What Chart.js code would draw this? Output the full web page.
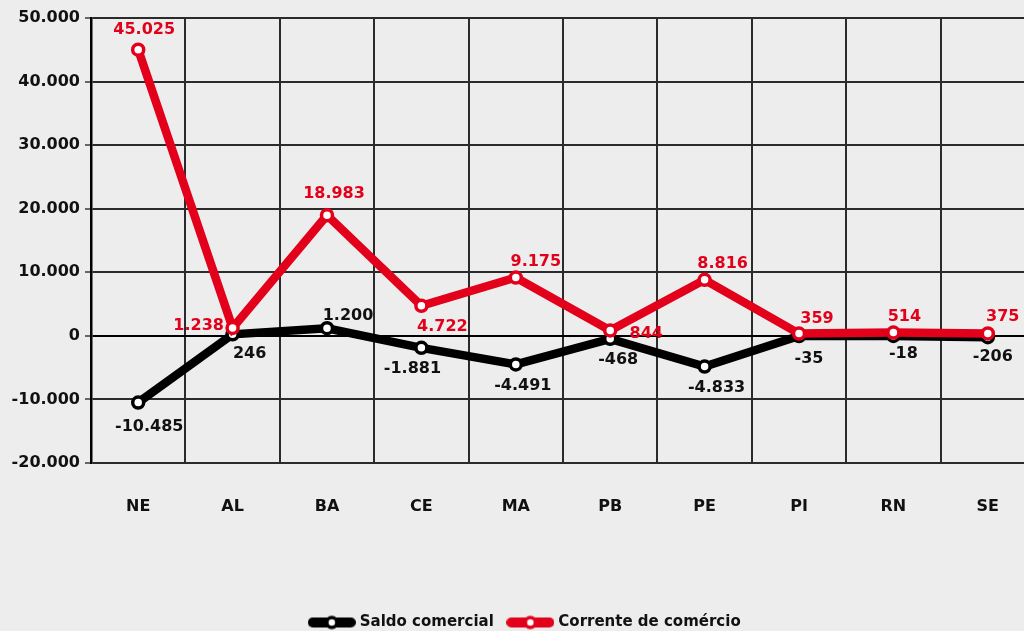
<!DOCTYPE html>
<html>
<head>
<meta charset="utf-8">
<script src="https://cdn.jsdelivr.net/npm/chart.js@4.4.1/dist/chart.umd.min.js"></script>
<style>
  html, body { margin: 0; padding: 0; background: #ecedec; overflow: hidden; }
  #wrap { width: 1052px; height: 631px; }
</style>
</head>
<body>
<div id="wrap"><canvas id="grafico" width="1052" height="631"></canvas></div>
<script>
const estados = ['NE', 'AL', 'BA', 'CE', 'MA', 'PB', 'PE', 'PI', 'RN', 'SE'];
const saldoComercial = [-10485, 246, 1200, -1881, -4491, -468, -4833, -35, -18, -206];
const correnteComercio = [45025, 1238, 18983, 4722, 9175, 844, 8816, 359, 514, 375];
const eixoY = { min: -20000, max: 50000, passo: 10000 };

const VERMELHO = '#e2001a';
const PRETO = '#000000';
const FONTE = 'DejaVu Sans';

// formato pt-BR: 45.025, -10.485
function formatar(v) {
    const s = Math.abs(v).toString().replace(/\B(?=(\d{3})+(?!\d))/g, '.');
    return (v < 0 ? '-' : '') + s;
}

// deslocamento dos rótulos de cada ponto (px)
const posSaldo = [[11, 24], [17, 20], [21, -12], [-9, 21], [7, 21], [8, 21], [12, 21], [10, 23], [10, 18], [5, 20]];
const posCorrente = [[6, -20], [-34, -2], [7, -21], [21, 21], [20, -16], [36, 3], [18, -16], [18, -15], [11, -16], [15, -17]];

const rotulosPlugin = {
    id: 'rotulos',
    afterLayout(chart) {
        // legenda um pouco deslocada para a direita, como no original
        if (chart.legend) chart.legend.left += 10;
    },
    afterDatasetsDraw(chart, args, opts) {
        const ctx = chart.ctx;
        ctx.save();
        ctx.font = `bold 16px "${FONTE}"`;
        ctx.textAlign = 'center';
        ctx.textBaseline = 'middle';
        chart.data.datasets.forEach((ds, i) => {
            const meta = chart.getDatasetMeta(i);
            const offs = opts.offsets[i];
            ctx.fillStyle = ds.labelColor;
            meta.data.forEach((pt, j) => {
                ctx.fillText(formatar(ds.data[j]), pt.x + offs[j][0], pt.y + offs[j][1]);
            });
        });
        ctx.restore();
    }
};

function amostraLegenda(cor) {
    const c = document.createElement('canvas');
    c.width = 48; c.height = 16;
    const g = c.getContext('2d');
    g.lineCap = 'round';
    g.strokeStyle = cor;
    g.lineWidth = 10;
    g.beginPath(); g.moveTo(5, 8); g.lineTo(43, 8); g.stroke();
    g.beginPath(); g.arc(24, 8, 5, 0, Math.PI * 2);
    g.fillStyle = '#fff'; g.fill();
    g.lineWidth = 3.5; g.stroke();
    return c;
}

const ctx = document.getElementById('grafico').getContext('2d');

new Chart(ctx, {
    type: 'line',
    data: {
        labels: estados,
        datasets: [
            {
                label: 'Saldo comercial',
                data: saldoComercial,
                borderColor: PRETO,
                labelColor: '#111',
                backgroundColor: '#fff',
                borderWidth: 8.5,
                pointRadius: 5.5,
                pointBorderWidth: 3.5,
                pointBackgroundColor: '#fff',
                pointBorderColor: PRETO,
                tension: 0,
                order: 2,
                amostra: amostraLegenda(PRETO)
            },
            {
                label: 'Corrente de comércio',
                data: correnteComercio,
                borderColor: VERMELHO,
                labelColor: VERMELHO,
                backgroundColor: '#fff',
                borderWidth: 8.5,
                pointRadius: 5.5,
                pointBorderWidth: 3.5,
                pointBackgroundColor: '#fff',
                pointBorderColor: VERMELHO,
                tension: 0,
                order: 1,
                amostra: amostraLegenda(VERMELHO)
            }
        ]
    },
    options: {
        responsive: false,
        animation: false,
        devicePixelRatio: 1,
        layout: { padding: { left: 7, right: 17, top: 18, bottom: -9 } },
        scales: {
            x: {
                offset: true,
                grid: { offset: true, drawTicks: false, color: '#2b2b2b', lineWidth: 2 },
                border: { display: false },
                ticks: { color: '#111', padding: 34, font: { family: FONTE, size: 16, weight: 'bold' } },
                afterFit(scale) { scale.height = 136; }
            },
            y: {
                min: eixoY.min,
                max: eixoY.max,
                afterFit(scale) { scale.width = 84; },
                ticks: {
                    stepSize: eixoY.passo,
                    color: '#111',
                    padding: 5,
                    font: { family: FONTE, size: 16, weight: 'bold' },
                    callback: v => formatar(v)
                },
                grid: {
                    color: c => (c.tick && c.tick.value === 0) ? '#000' : '#2b2b2b',
                    lineWidth: 2,
                    tickLength: 6,
                    tickColor: '#666'
                },
                border: { color: '#000', width: 2.5 }
            }
        },
        plugins: {
            tooltip: { enabled: false },
            legend: {
                position: 'bottom',
                labels: {
                    usePointStyle: true,
                    pointStyleWidth: 41,
                    color: '#111',
                    padding: 16,
                    font: { family: FONTE, size: 15, weight: 'bold' },
                    generateLabels(chart) {
                        return chart.data.datasets.map((ds, i) => ({
                            text: ds.label,
                            pointStyle: ds.amostra,
                            fillStyle: ds.borderColor,
                            strokeStyle: ds.borderColor,
                            lineWidth: 0,
                            fontColor: '#111',
                            hidden: false,
                            datasetIndex: i
                        }));
                    }
                }
            },
            rotulos: { offsets: [posSaldo, posCorrente] }
        }
    },
    plugins: [rotulosPlugin]
});
</script>
</body>
</html>
